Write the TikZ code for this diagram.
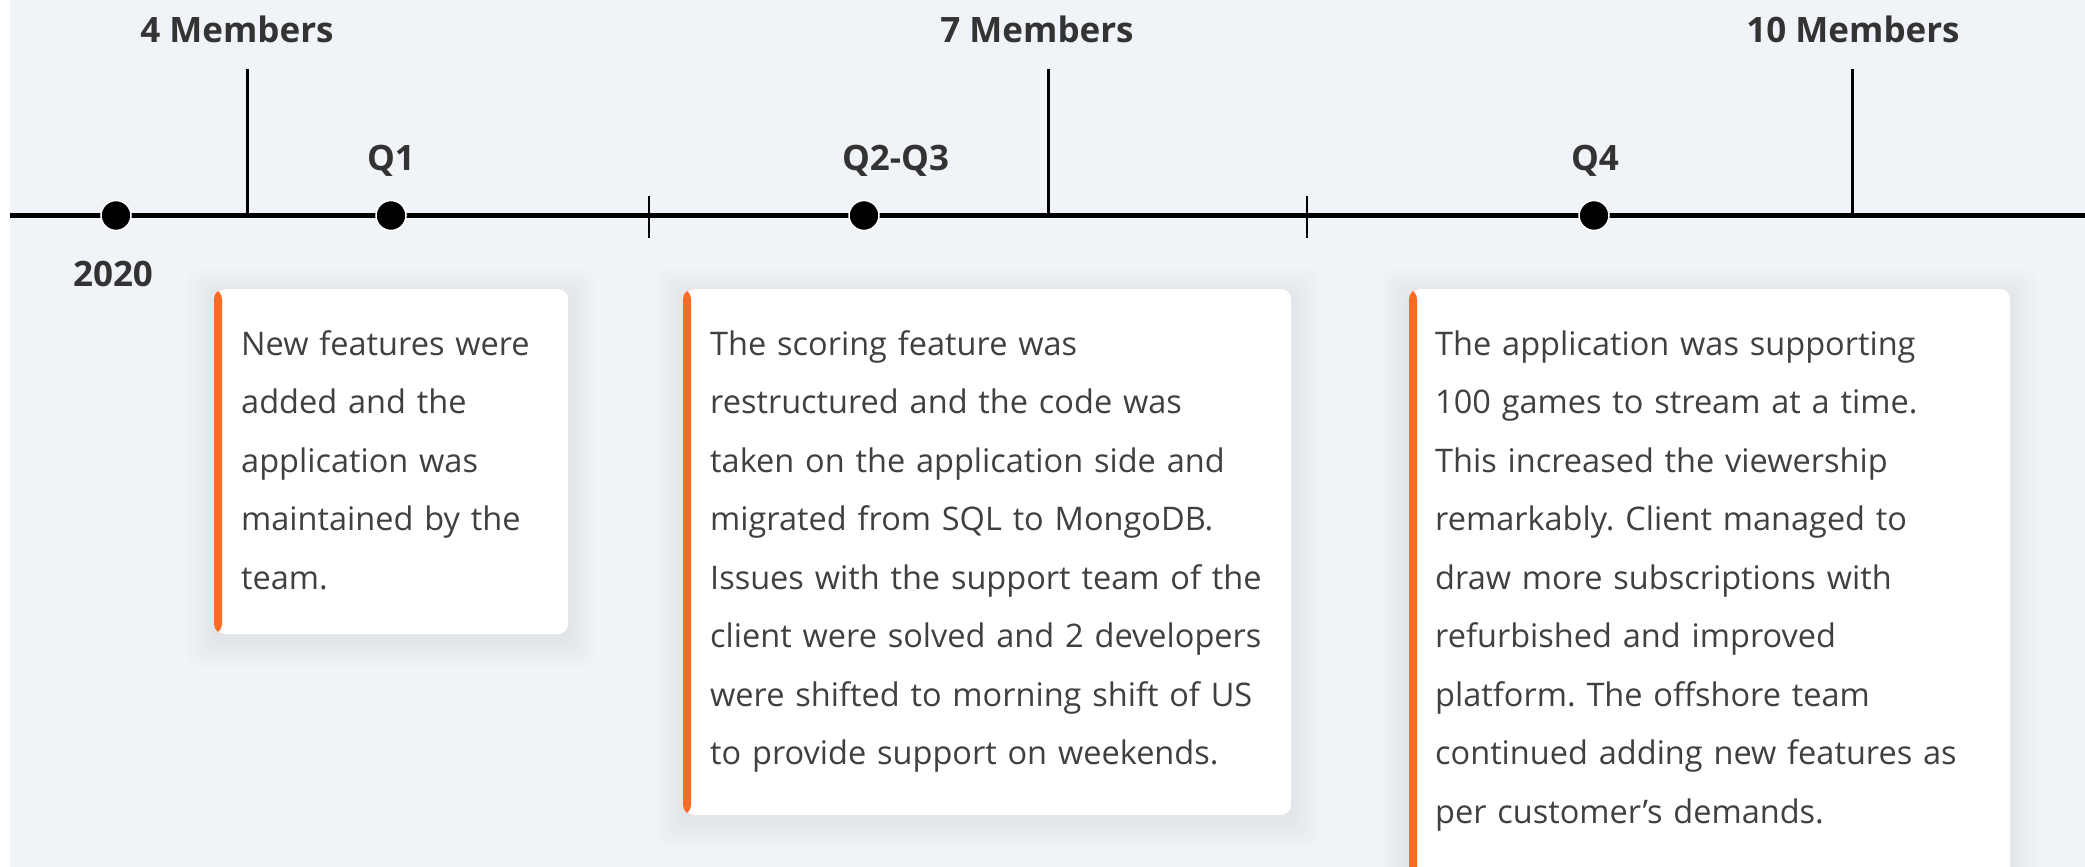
\documentclass[tikz,border=0pt]{standalone}
\usepackage{fontspec}
\setmainfont{Open Sans}
\frenchspacing

\definecolor{pagebg}{HTML}{F0F4F9}
\definecolor{labelgray}{HTML}{333333}
\definecolor{bodygray}{HTML}{404040}
\definecolor{accent}{HTML}{FA6B24}

% soft shade under a card: x1 y1 x2 y2
\newcommand{\cardshade}[4]{%
  \foreach \s in {2,4,...,28}
    \fill[black, opacity=0.005, rounded corners=12pt]
      (#1-\s,#2-\s+6) rectangle (#3+\s,#4+\s+6);}

\begin{document}
\begin{tikzpicture}[x=1pt, y=-1pt,
    dot/.style={circle, fill=black, draw=white, line width=1.5pt,
      minimum size=30pt, inner sep=0pt},
    toplbl/.style={anchor=base, text=labelgray,
      font=\fontsize{35}{40}\bfseries\selectfont},
    card/.style={fill=white, rounded corners=10pt,
      path picture={\fill[accent] (path picture bounding box.north west)
        rectangle ([xshift=8pt]path picture bounding box.south west);}},
    cardtxt/.style={anchor=base west, align=left, text width=560pt,
      inner sep=0pt, text=bodygray,
      font=\fontsize{32.5}{58.5}\selectfont}]
  \useasboundingbox (0,0) rectangle (2085,867);
  \fill[pagebg] (0,0) rectangle (2085,867);
  \fill[white] (0,0) rectangle (10,867);

  % time axis
  \coordinate (axisL) at (10,215.5);
  \coordinate (axisR) at (2085,215.5);
  \draw[line width=5.5pt] (axisL) -- (axisR);

  % team size marks
  \coordinate (m4) at (247,215.5);   \coordinate (m4top) at (247,69);
  \coordinate (m7) at (1048,215.5);  \coordinate (m7top) at (1048,69);
  \coordinate (m10) at (1852,215.5); \coordinate (m10top) at (1852,69);
  \draw[line width=3pt] (m4) -- (m4top);
  \draw[line width=3pt] (m7) -- (m7top);
  \draw[line width=3pt] (m10) -- (m10top);

  % short breaks on the axis
  \coordinate (brA) at (649,196);  \coordinate (brAlow) at (649,238);
  \coordinate (brB) at (1307,196); \coordinate (brBlow) at (1307,238);
  \draw[line width=2.5pt] (brA) -- (brAlow);
  \draw[line width=2.5pt] (brB) -- (brBlow);

  % milestones
  \node[dot] (d2020) at (116,215.5) {};
  \node[dot] (dQ1) at (391,215.5) {};
  \node[dot] (dQ23) at (864,215.5) {};
  \node[dot] (dQ4) at (1594,215.5) {};

  \node[toplbl] (l4) at (237,43) {4 Members};
  \node[toplbl] (l7) at (1037,43) {7 Members};
  \node[toplbl] (l10) at (1853,43) {10 Members};
  \node[toplbl] (lQ1) at (391,170) {Q1};
  \node[toplbl] (lQ23) at (895.5,170) {Q2-Q3};
  \node[toplbl] (lQ4) at (1595,170) {Q4};
  \node[toplbl] (l2020) at (113,286) {2020};

  % cards
  \cardshade{214}{289}{568}{634}
  \path[card] (214,289) rectangle (568,634);
  \node[cardtxt] (tQ1) at (241,355)
    {New features were\\added and the\\application was\\maintained by the\\team.};

  \cardshade{683}{289}{1291}{815}
  \path[card] (683,289) rectangle (1291,815);
  \node[cardtxt] (tQ23) at (710,355)
    {The scoring feature was\\restructured and the code was\\taken on the application side and\\migrated from SQL to MongoDB.\\Issues with the support team of the\\client were solved and 2 developers\\were shifted to morning shift of US\\to provide support on weekends.};

  \cardshade{1409}{289}{2010}{920}
  \path[card] (1409,289) rectangle (2010,920);
  \node[cardtxt] (tQ4) at (1435,355)
    {The application was supporting\\100 games to stream at a time.\\This increased the viewership\\remarkably. Client managed to\\draw more subscriptions with\\refurbished and improved\\platform. The offshore team\\continued adding new features as\\per customer’s demands.};
\end{tikzpicture}
\end{document}
